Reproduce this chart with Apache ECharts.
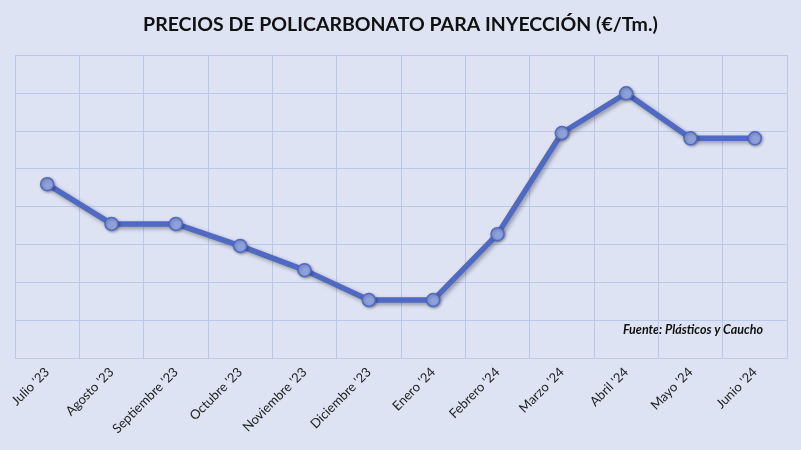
<!DOCTYPE html>
<html>
<head>
<meta charset="utf-8">
<script src="https://cdn.jsdelivr.net/npm/echarts@6/dist/echarts.min.js"></script>
<style>
  html, body { margin: 0; padding: 0; background: #dde3f3; }
  #chart { width: 801px; height: 450px; }
</style>
</head>
<body>
<div id="chart"></div>
<script>
// meses
const months = ["Julio '23", "Agosto '23", "Septiembre '23", "Octubre '23", "Noviembre '23", "Diciembre '23",
  "Enero '24", "Febrero '24", "Marzo '24", "Abril '24", "Mayo '24", "Junio '24"];
// precio (escala relativa, el original no muestra el eje Y)
const prices = [4.59, 3.54, 3.54, 2.96, 2.32, 1.53, 1.53, 3.27, 5.94, 6.99, 5.80, 5.80];
const yMin = 0;
const yMax = 8;
const yStep = 1;

const chart = echarts.init(document.getElementById('chart'));
chart.setOption({
  backgroundColor: '#dde3f3',
  animation: false,
  title: {
    text: 'PRECIOS DE POLICARBONATO PARA INYECCIÓN (€/Tm.)',
    left: 'center',
    top: 10,
    textStyle: { fontFamily: 'Lato', fontSize: 19.5, fontWeight: 'bold', color: '#111' }
  },
  grid: { left: 15, right: 14, top: 55, bottom: 92 },
  xAxis: {
    type: 'category',
    data: months,
    boundaryGap: true,
    axisLine: { lineStyle: { color: '#c5c9d8', width: 1 } },
    axisTick: { show: false },
    splitLine: { show: true, lineStyle: { color: '#b8c8e8', width: 1 } },
    axisLabel: {
      rotate: 45,
      interval: 0,
      margin: 12,
      fontFamily: 'Lato',
      fontSize: 13,
      color: '#222'
    }
  },
  yAxis: {
    type: 'value',
    min: yMin,
    max: yMax,
    interval: yStep,
    axisLabel: { show: false },
    axisLine: { show: false },
    axisTick: { show: false },
    splitLine: { lineStyle: { color: '#b8c8e8', width: 1 } }
  },
  series: [{
    type: 'line',
    data: prices,
    symbol: 'circle',
    symbolSize: 13,
    lineStyle: {
      color: '#5069c3',
      width: 5.5,
      shadowColor: 'rgba(0,0,0,0.35)',
      shadowBlur: 4,
      shadowOffsetX: 2,
      shadowOffsetY: 2
    },
    itemStyle: {
      color: '#8ea1dc',
      borderColor: '#5069c3',
      borderWidth: 1.5,
      shadowColor: 'rgba(0,0,0,0.3)',
      shadowBlur: 3,
      shadowOffsetX: 1,
      shadowOffsetY: 1
    }
  }],
  graphic: [{
    type: 'text',
    right: 32,
    top: 317,
    style: {
      text: 'Fuente: Plásticos y Caucho',
      font: 'italic bold 12.5px Lato',
      fill: '#111',
      backgroundColor: '#dde3f3',
      padding: [6, 6]
    }
  }]
});
</script>
</body>
</html>
